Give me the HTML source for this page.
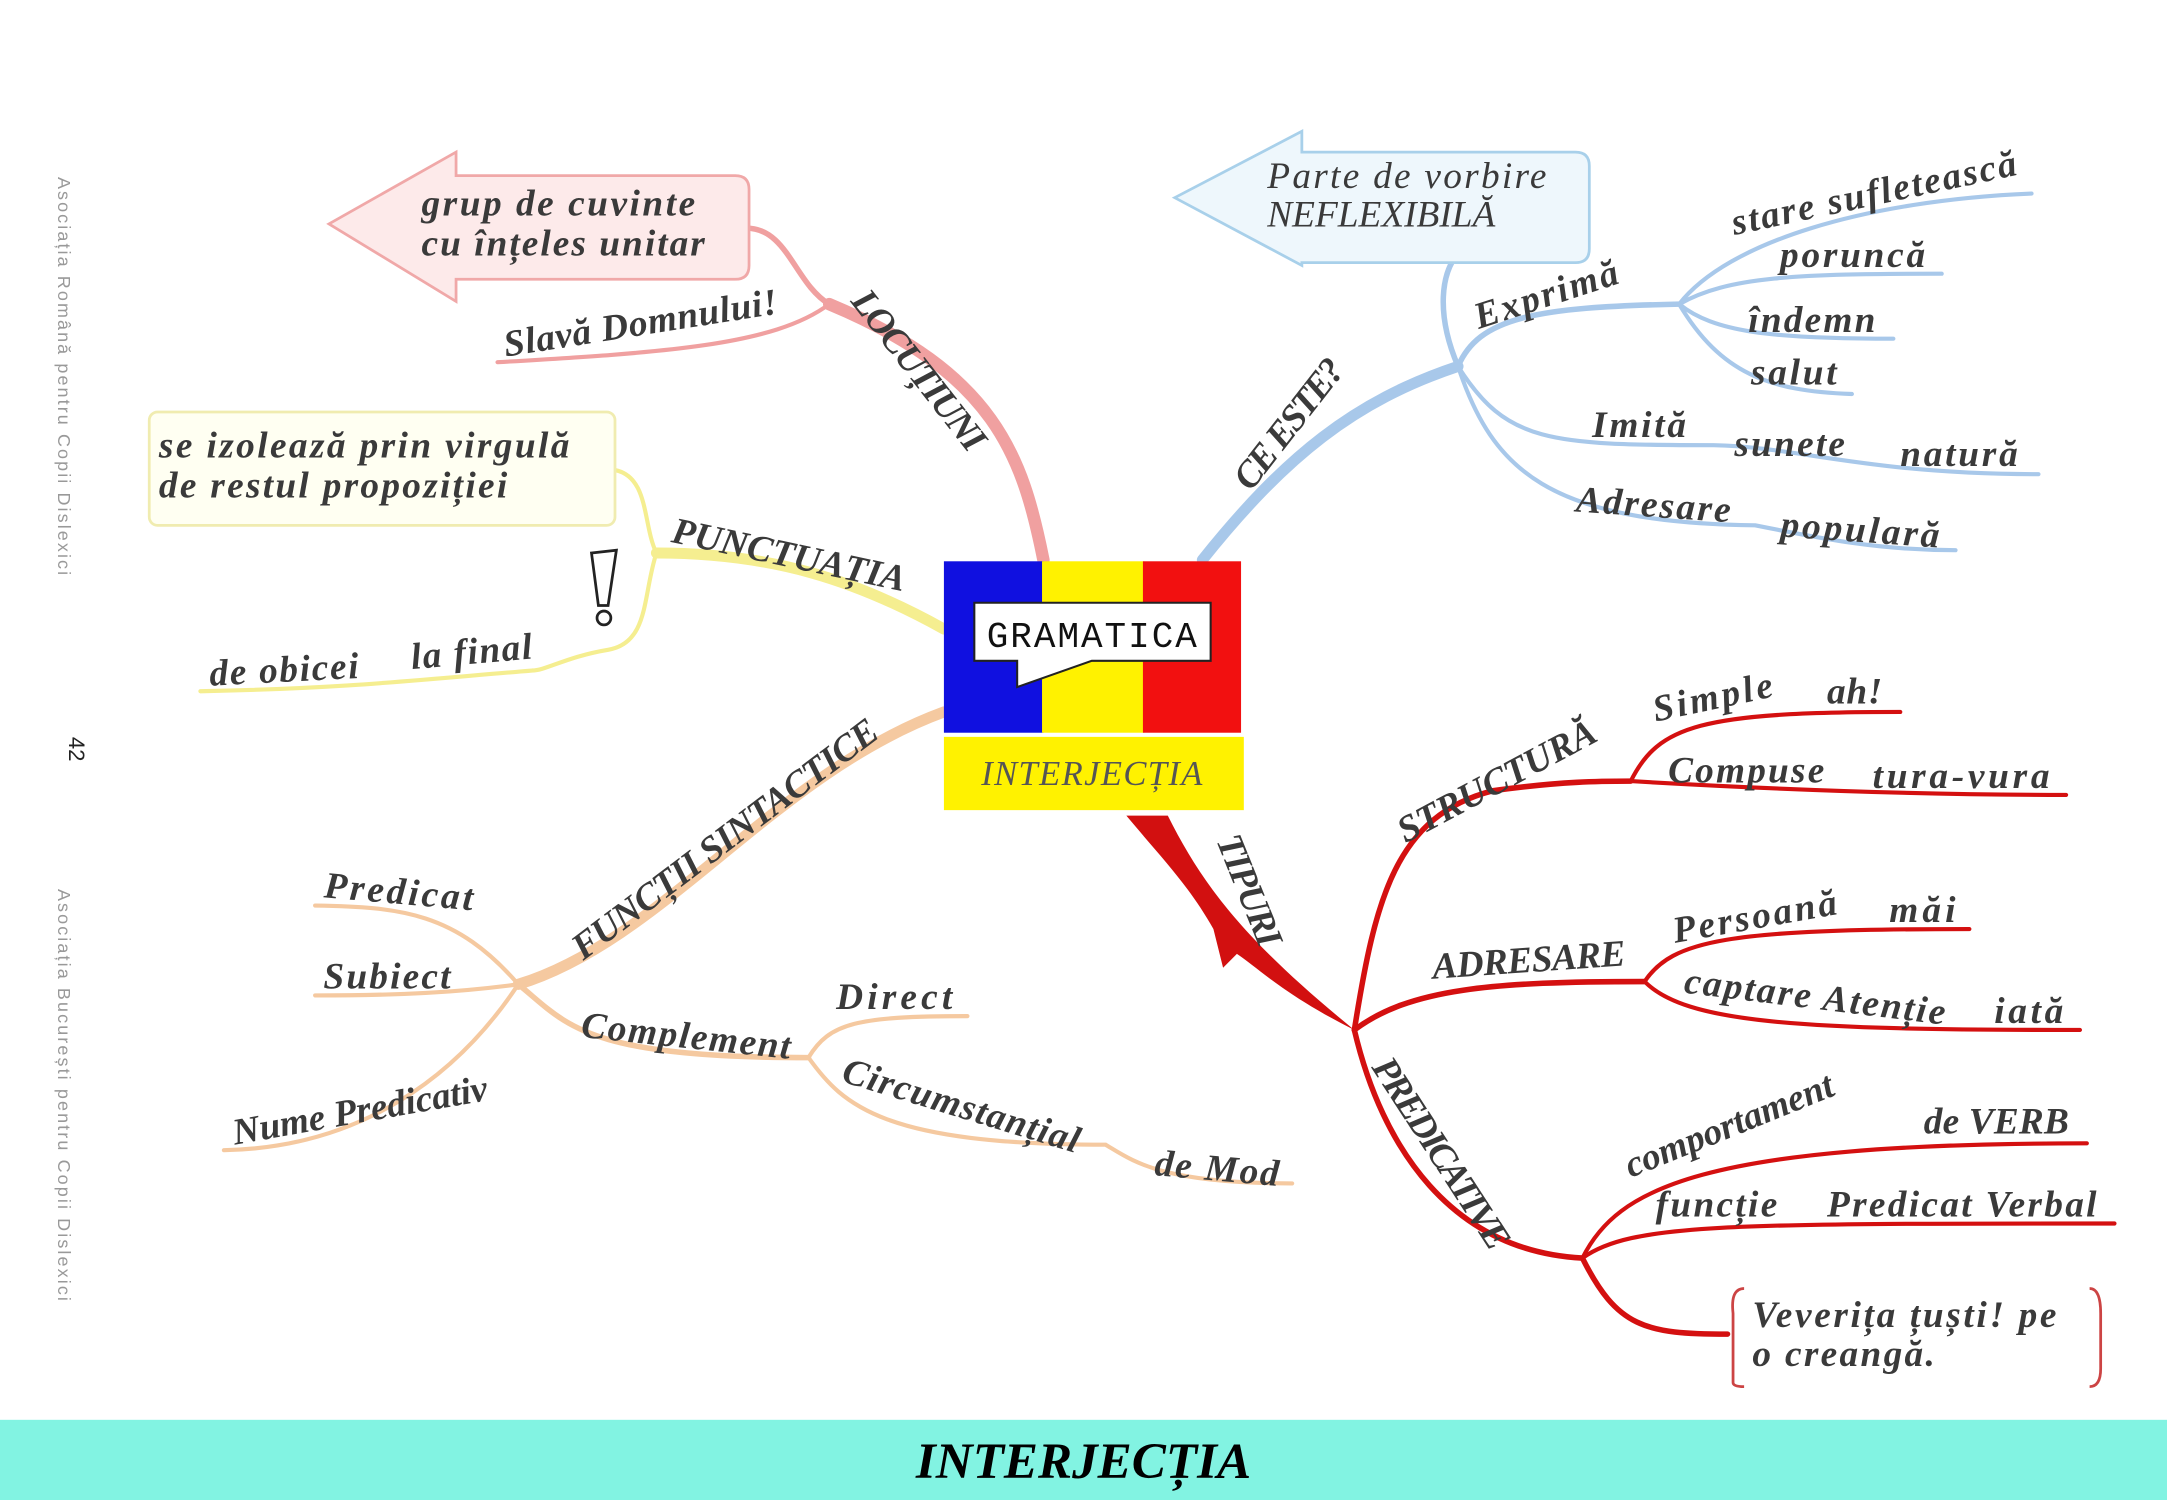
<!DOCTYPE html>
<html><head><meta charset="utf-8"><style>
html,body{margin:0;padding:0;background:#fff;}
svg{display:block;}
.t{font-family:"Liberation Serif",serif;font-style:italic;font-weight:bold;fill:#3a3a3a;font-size:27px;}
.s{font-family:"Liberation Sans",sans-serif;fill:#999;font-size:13px;}
</style></head><body>
<svg width="2167" height="1500" viewBox="0 0 1568 1085" preserveAspectRatio="none" xmlns="http://www.w3.org/2000/svg">
<rect x="0" y="0" width="1568" height="1085" fill="#fff"/>
<text class="s" transform="translate(42,128) rotate(90)" textLength="288">Asociația Română pentru Copii Dislexici</text>
<text class="s" style="fill:#222;font-size:16px" transform="translate(50,533) rotate(90)">42</text>
<text class="s" transform="translate(42,643) rotate(90)" textLength="298">Asociația București pentru Copii Dislexici</text>

<!-- LOCUTIUNI pink -->
<g fill="none" stroke="#f0a0a0" stroke-linecap="round">
<path d="M755,405 C740,330 720,270 600,220" stroke-width="9"/>
<path d="M600,220 C575,205 570,165 540,165" stroke-width="4"/>
<path d="M600,220 C560,250 480,255 360,262" stroke-width="3"/>
</g>
<path d="M238,162 L330,110 L330,127 L532,127 Q542,127 542,137 L542,192 Q542,202 532,202 L330,202 L330,218 Z" fill="#fdeaea" stroke="#f0a8a8" stroke-width="2"/>
<text class="t" x="305" y="156" font-size="27" textLength="198">grup de cuvinte</text>
<text class="t" x="305" y="185" font-size="27" textLength="205">cu înțeles unitar</text>
<text class="t" x="366" y="258" transform="rotate(-9 366 258)" textLength="200">Slavă Domnului!</text>
<text class="t" x="615" y="218" transform="rotate(52 615 218)" textLength="140">LOCUȚIUNI</text>

<!-- CE ESTE blue -->
<g fill="none" stroke="#a8c8ea" stroke-linecap="round">
<path d="M870,405 C930,330 980,290 1055,265" stroke-width="8"/>
<path d="M1055,265 C1040,230 1040,195 1060,178" stroke-width="4"/>
<path d="M1055,265 C1070,230 1110,222 1215,220" stroke-width="4"/>
<path d="M1215,220 C1250,175 1350,145 1470,140" stroke-width="3"/>
<path d="M1215,220 C1250,200 1300,198 1405,198" stroke-width="3"/>
<path d="M1215,220 C1240,240 1280,245 1370,245" stroke-width="3"/>
<path d="M1215,220 C1245,270 1280,283 1340,285" stroke-width="3"/>
<path d="M1055,265 C1090,320 1120,322 1240,322 C1300,323 1350,343 1475,343" stroke-width="3"/>
<path d="M1055,265 C1080,340 1120,378 1270,380 C1320,390 1360,398 1415,398" stroke-width="3"/>
</g>
<path d="M850,143 L942,95 L942,110 L1140,110 Q1150,110 1150,120 L1150,180 Q1150,190 1140,190 L942,190 L942,192 Z" fill="#eef7fc" stroke="#a8d0ea" stroke-width="2"/>
<text class="t" x="917" y="136" font-size="26" style="font-weight:normal" textLength="202">Parte de vorbire</text>
<text class="t" x="917" y="164" font-size="25" style="font-weight:normal" textLength="165">NEFLEXIBILĂ</text>
<text class="t" x="905" y="356" transform="rotate(-52 905 356)" textLength="112">CE ESTE?</text>
<text class="t" x="1070" y="238" transform="rotate(-18 1070 238)" textLength="108">Exprimă</text>
<text class="t" x="1255" y="170" transform="rotate(-12 1255 170)" textLength="210">stare sufletească</text>
<text class="t" x="1288" y="193" textLength="105">poruncă</text>
<text class="t" x="1265" y="240" textLength="92">îndemn</text>
<text class="t" x="1267" y="278" textLength="62">salut</text>
<text class="t" x="1152" y="316" textLength="68">Imită</text>
<text class="t" x="1255" y="330" textLength="80">sunete</text>
<text class="t" x="1375" y="337" textLength="85">natură</text>
<text class="t" x="1140" y="370" transform="rotate(4 1140 370)" textLength="112">Adresare</text>
<text class="t" x="1288" y="388" transform="rotate(4 1288 388)" textLength="115">populară</text>

<!-- PUNCTUATIA yellow -->
<g fill="none" stroke="#f5ee90" stroke-linecap="round">
<path d="M683,455 C620,420 560,400 475,400" stroke-width="8"/>
<path d="M475,400 C465,380 470,345 445,340" stroke-width="3"/>
<path d="M475,400 C465,430 470,465 440,470 C410,475 395,485 385,485 C300,492 250,498 145,500" stroke-width="3"/>
</g>
<rect x="108" y="298" width="337" height="82" rx="6" fill="#fffff2" stroke="#f0ecb0" stroke-width="2"/>
<text class="t" x="115" y="331" textLength="297">se izolează prin virgulă</text>
<text class="t" x="115" y="360" textLength="252">de restul propoziției</text>
<text class="t" x="485" y="392" transform="rotate(12 485 392)" textLength="172">PUNCTUAȚIA</text>
<text class="t" x="152" y="496" transform="rotate(-3 152 496)" textLength="108">de obicei</text>
<text class="t" x="298" y="484" transform="rotate(-5 298 484)" textLength="88">la final</text>
<path d="M428,400 L446,398 L440,438 L433,438 Z" fill="#fff" stroke="#222" stroke-width="2"/>
<circle cx="437" cy="447" r="5" fill="#fff" stroke="#222" stroke-width="2"/>

<!-- FUNCTII orange -->
<g fill="none" stroke="#f5c9a0" stroke-linecap="round">
<path d="M683,515 C560,560 480,680 375,712" stroke-width="8"/>
<path d="M375,712 C330,660 290,656 228,655" stroke-width="3"/>
<path d="M375,712 C330,718 290,720 228,720" stroke-width="3"/>
<path d="M375,712 C330,780 260,830 162,832" stroke-width="3"/>
<path d="M375,712 C410,740 420,765 585,765" stroke-width="4"/>
<path d="M585,765 C600,740 620,735 700,735" stroke-width="3"/>
<path d="M585,765 C610,800 640,828 800,828 C820,840 840,856 935,856" stroke-width="3"/>
</g>
<text class="t" x="422" y="695" transform="rotate(-37 422 695)" textLength="270">FUNCȚII SINTACTICE</text>
<text class="t" x="234" y="649" transform="rotate(5 234 649)" textLength="108">Predicat</text>
<text class="t" x="234" y="715" textLength="92">Subiect</text>
<text class="t" x="170" y="828" transform="rotate(-10 170 828)">Nume Predicativ</text>
<text class="t" x="420" y="750" transform="rotate(6 420 750)" textLength="152">Complement</text>
<text class="t" x="605" y="730" textLength="84">Direct</text>
<text class="t" x="608" y="782" transform="rotate(17 608 782)" textLength="178">Circumstanțial</text>
<text class="t" x="835" y="850" transform="rotate(5 835 850)" textLength="90">de Mod</text>

<!-- TIPURI red -->
<path d="M815,590 L845,590 C870,640 900,680 980,745 C930,720 910,700 895,690 L885,700 L878,672 C860,640 840,620 815,590 Z" fill="#d21010"/>
<g fill="none" stroke="#d41010" stroke-linecap="round">
<path d="M980,745 C995,650 1010,590 1080,572 C1130,565 1160,565 1180,565" stroke-width="4"/>
<path d="M1180,565 C1200,525 1230,515 1375,515" stroke-width="3"/>
<path d="M1180,565 C1300,572 1400,575 1495,575" stroke-width="3"/>
<path d="M980,745 C1020,715 1080,710 1190,710" stroke-width="4"/>
<path d="M1190,710 C1210,680 1250,672 1425,672" stroke-width="3"/>
<path d="M1190,710 C1220,740 1300,745 1505,745" stroke-width="3"/>
<path d="M980,745 C1000,830 1050,905 1145,910" stroke-width="4"/>
<path d="M1145,910 C1170,860 1230,827 1510,827" stroke-width="3"/>
<path d="M1145,910 C1180,885 1250,885 1530,885" stroke-width="3"/>
<path d="M1145,910 C1170,960 1190,965 1250,965" stroke-width="4"/>
</g>
<path d="M1262,932 Q1252,932 1254,950 L1254,1000 Q1254,1003 1262,1003" fill="none" stroke="#c44" stroke-width="2"/>
<path d="M1512,932 Q1520,932 1520,950 L1520,990 Q1520,1003 1512,1003" fill="none" stroke="#c44" stroke-width="2"/>
<text class="t" x="1268" y="960" font-size="27" textLength="220">Veverița țuști! pe</text>
<text class="t" x="1268" y="988" font-size="27" textLength="132">o creangă.</text>
<text class="t" x="880" y="608" transform="rotate(68 880 608)" textLength="85">TIPURI</text>
<text class="t" x="1017" y="610" transform="rotate(-28 1017 610)">STRUCTURĂ</text>
<text class="t" x="1198" y="522" transform="rotate(-12 1198 522)" textLength="88">Simple</text>
<text class="t" x="1322" y="509" textLength="40">ah!</text>
<text class="t" x="1207" y="566" textLength="113">Compuse</text>
<text class="t" x="1355" y="570" textLength="128">tura-vura</text>
<text class="t" x="1037" y="708" transform="rotate(-4 1037 708)" textLength="140">ADRESARE</text>
<text class="t" x="1212" y="682" transform="rotate(-10 1212 682)" textLength="120">Persoană</text>
<text class="t" x="1367" y="667" textLength="48">măi</text>
<text class="t" x="1218" y="718" transform="rotate(7 1218 718)" textLength="190">captare Atenție</text>
<text class="t" x="1443" y="740" textLength="50">iată</text>
<text class="t" x="992" y="772" transform="rotate(57 992 772)" textLength="160">PREDICATIVE</text>
<text class="t" x="1180" y="852" transform="rotate(-22 1180 852)">comportament</text>
<text class="t" x="1392" y="820" textLength="105">de VERB</text>
<text class="t" x="1198" y="880" textLength="88">funcție</text>
<text class="t" x="1322" y="880" textLength="195">Predicat Verbal</text>

<!-- center -->
<rect x="683" y="406" width="72" height="124" fill="#1010e0"/>
<rect x="754" y="406" width="74" height="124" fill="#fff200"/>
<rect x="827" y="406" width="71" height="124" fill="#f21010"/>
<path d="M705,436 L876,436 L876,478 L790,478 L736,497 L736,478 L705,478 Z" fill="#fff" stroke="#222" stroke-width="1.5"/>
<text x="790" y="468" text-anchor="middle" font-family="Liberation Mono, monospace" font-size="26" fill="#111" textLength="152">GRAMATICA</text>
<rect x="683" y="533" width="217" height="53" fill="#fff200"/>
<text x="790" y="568" text-anchor="middle" font-family="Liberation Serif, serif" font-style="italic" font-size="25" fill="#555" textLength="160">INTERJECȚIA</text>

<!-- footer -->
<rect x="0" y="1027" width="1568" height="58" fill="#82f3e2"/>
<text x="784" y="1069" text-anchor="middle" font-family="Liberation Serif, serif" font-style="italic" font-weight="bold" font-size="37" fill="#000">INTERJECȚIA</text>
</svg>
</body></html>
